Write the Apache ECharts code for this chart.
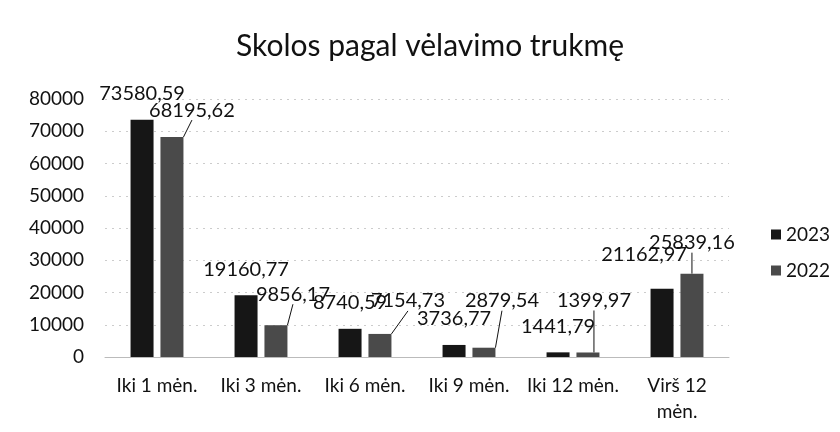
<!DOCTYPE html>
<html>
<head>
<meta charset="utf-8">
<script src="https://cdn.jsdelivr.net/npm/echarts@6/dist/echarts.min.js"></script>
<style>
    html, body { margin: 0; padding: 0; background: #fff; }
    #main { width: 840px; height: 432px; }
</style>
</head>
<body>
<div id="main"></div>
<script>
    var categories = ['Iki 1 mėn.', 'Iki 3 mėn.', 'Iki 6 mėn.', 'Iki 9 mėn.', 'Iki 12 mėn.', 'Virš 12 mėn.'];
    var values2023 = [73580.59, 19160.77, 8740.59, 3736.77, 1441.79, 21162.97];
    var values2022 = [68195.62, 9856.17, 7154.73, 2879.54, 1399.97, 25839.16];
    var yTicks = [0, 10000, 20000, 30000, 40000, 50000, 60000, 70000, 80000];

    // label shifts (manually moved labels in the original)
    var shift2023 = [[0, 0], [0, 0], [0, 0], [0, 0], [0, 0], [-18, -8]];
    var shift2022 = [[20, -12], [17, -16], [28, -18], [18, -32], [6, -37], [0, -16]];

    var font = 'Lato, "Open Sans", sans-serif';

    function fmt(v) {
        return v.toFixed(2).replace('.', ',');
    }

    var myChart = echarts.init(document.getElementById('main'));
    var option = {
        backgroundColor: '#fff',
        animation: false,
        title: {
            text: 'Skolos pagal vėlavimo trukmę',
            left: 425,
            textAlign: 'center',
            top: 26,
            textStyle: { fontFamily: font, fontSize: 30, fontWeight: 'normal', color: '#111' }
        },
        legend: {
            orient: 'vertical',
            left: 766,
            top: 220,
            itemWidth: 10,
            itemHeight: 10,
            itemGap: 17,
            icon: 'rect',
            textStyle: { fontFamily: font, fontSize: 19, color: '#111' },
            data: ['2023', '2022']
        },
        grid: { left: 105, right: 111, top: 99, bottom: 75 },
        xAxis: {
            type: 'category',
            data: categories,
            axisTick: { show: false },
            axisLine: { lineStyle: { color: '#bbb' } },
            axisLabel: {
                interval: 0,
                fontFamily: font, fontSize: 19, color: '#111', margin: 16, lineHeight: 26,
                formatter: function (v) { return v.replace('Virš 12 ', 'Virš 12\n'); }
            }
        },
        yAxis: {
            type: 'value',
            min: yTicks[0],
            max: yTicks[yTicks.length - 1],
            interval: 10000,
            axisLine: { show: false },
            axisTick: { show: false },
            axisLabel: {
                fontFamily: font, fontSize: 19, color: '#111', margin: 21,
                formatter: function (v) { return String(v); }
            },
            splitLine: { lineStyle: { color: '#ccc', type: [2, 5] } }
        },
        series: [
            {
                name: '2023',
                type: 'bar',
                data: values2023,
                barWidth: 23,
                barGap: '30%',
                itemStyle: { color: '#161616' },
                label: {
                    show: true, position: 'top', distance: 16,
                    fontFamily: font, fontSize: 20, color: '#111',
                    formatter: function (p) { return fmt(p.value); }
                },
                labelLayout: function (p) {
                    var s = shift2023[p.dataIndex];
                    return { dx: s[0], dy: s[1] };
                }
            },
            {
                name: '2022',
                type: 'bar',
                data: values2022,
                barWidth: 23,
                itemStyle: { color: '#4a4a4a' },
                label: {
                    show: true, position: 'top', distance: 5,
                    fontFamily: font, fontSize: 20, color: '#111',
                    formatter: function (p) { return fmt(p.value); }
                },
                labelLine: { show: true, lineStyle: { color: '#111', width: 1 } },
                labelLayout: function (p) {
                    var s = shift2022[p.dataIndex];
                    return { dx: s[0], dy: s[1] };
                }
            }
        ]
    };
    myChart.setOption(option, true);
</script>
</body>
</html>
